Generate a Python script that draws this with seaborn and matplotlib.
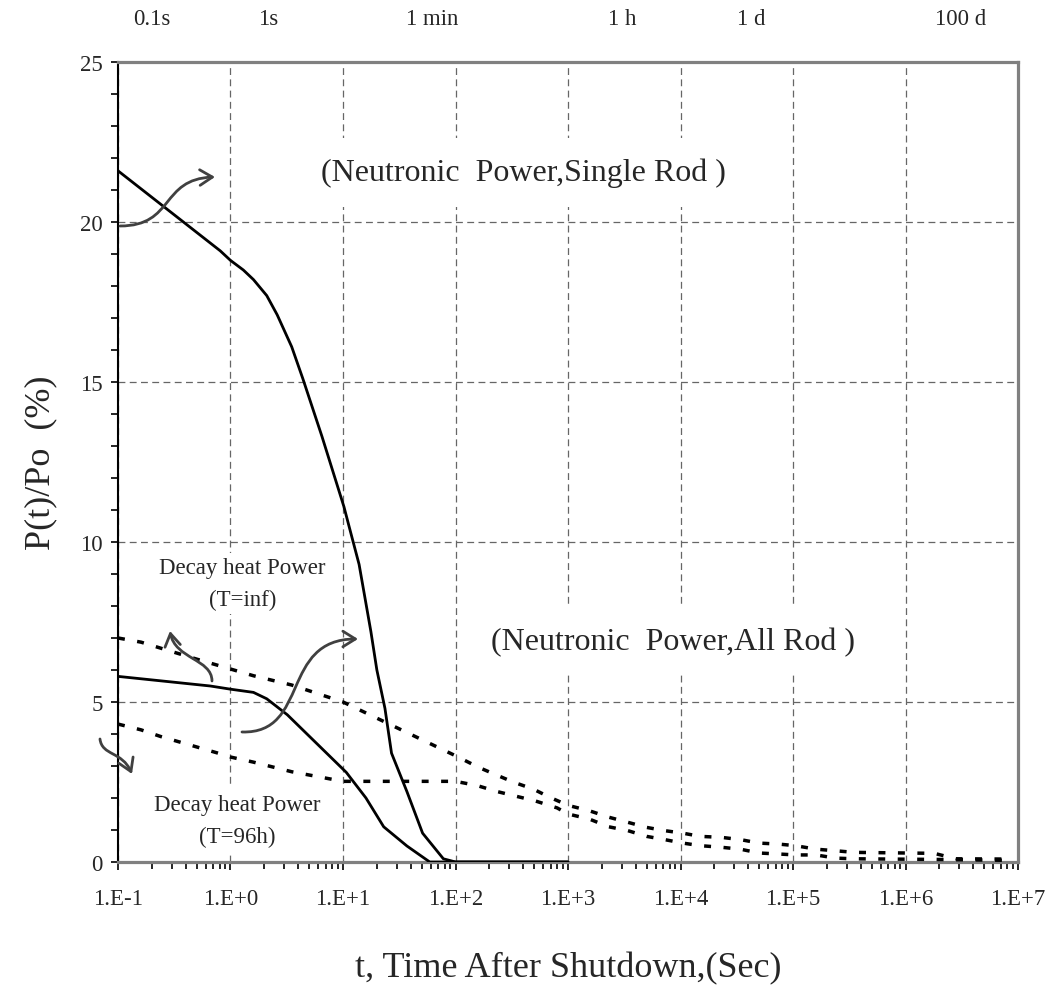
import numpy as np
import pandas as pd
import matplotlib
matplotlib.use('Agg')
import matplotlib.pyplot as plt
import seaborn as sns
from matplotlib.patches import FancyArrowPatch
from matplotlib.path import Path
from matplotlib.ticker import LogLocator, NullFormatter, MultipleLocator

# values (t in seconds, P/Po in %)
single_t = [0.1, 0.81, 1.0, 1.3, 1.6, 2.1, 2.6, 3.5, 4.4, 6.5, 10.2, 11.3, 13.9,
            17.7, 20, 23.6, 27, 37, 51, 78, 100, 1000]
single_p = [21.6, 19.1, 18.8, 18.5, 18.2, 17.7, 17.1, 16.1, 15.1, 13.3, 11.1, 10.5, 9.3,
            7.2, 6.0, 4.8, 3.4, 2.2, 0.9, 0.1, 0.0, 0.0]

allrod_t = [0.1, 0.66, 1.0, 1.6, 2.1, 3.2, 10.7, 16, 23, 37, 59, 100, 1000]
allrod_p = [5.8, 5.5, 5.4, 5.3, 5.1, 4.6, 2.8, 2.0, 1.1, 0.5, 0.0, 0.0, 0.0]

inf_t = [0.1, 0.16, 0.5, 1.0, 1.6, 3.5, 10, 100, 160, 220, 330, 490, 690, 1000,
         1550, 2300, 3400, 5000, 7200, 1.05e4, 1.5e4, 2.3e4, 3.4e4, 5e4, 7.4e4,
         1.05e5, 1.6e5, 2.4e5, 3.5e5, 1.8e6, 2.8e6, 9.1e6]
inf_p = [7.0, 6.87, 6.34, 6.03, 5.82, 5.53, 5.0, 3.32, 2.96, 2.75, 2.49, 2.28, 2.02, 1.77,
         1.6, 1.40, 1.24, 1.08, 0.98, 0.90, 0.80, 0.77, 0.70, 0.59, 0.56,
         0.51, 0.40, 0.35, 0.30, 0.27, 0.10, 0.09]

h96_t = [0.1, 0.16, 0.24, 0.76, 1.0, 1.6, 3.5, 10, 32, 100, 155, 235, 350, 510, 800, 1000,
         1550, 2300, 3400, 5000, 7200, 1.05e4, 1.5e4, 2.3e4, 3.4e4, 5e4, 7.4e4,
         1.05e5, 1.6e5, 2.4e5, 3.5e5, 1.8e6, 9.1e6]
h96_p = [4.31, 4.13, 3.92, 3.41, 3.28, 3.12, 2.82, 2.52, 2.52, 2.52, 2.39, 2.2, 2.05, 1.91, 1.69, 1.5,
         1.34, 1.10, 0.98, 0.80, 0.70, 0.59, 0.51, 0.46, 0.40, 0.28, 0.25,
         0.22, 0.22, 0.12, 0.10, 0.08, 0.05]

xtick_vals = [1e-1, 1e0, 1e1, 1e2, 1e3, 1e4, 1e5, 1e6, 1e7]
xtick_labels = ['1.E-1', '1.E+0', '1.E+1', '1.E+2', '1.E+3', '1.E+4', '1.E+5', '1.E+6', '1.E+7']
top_labels = ['0.1s', '1s', '1 min', '1 h', '1 d', '100 d']
top_pos = [0.038, 0.167, 0.349, 0.56, 0.704, 0.936]  # axes fraction

sns.set_style('ticks')
plt.rcParams['font.family'] = ['Liberation Serif', 'DejaVu Serif']

fig = plt.figure(figsize=(10.61, 10.03), dpi=100)
ax = fig.add_axes([0.1112, 0.1396, 0.8483, 0.7976])
ax.set_xscale('log')

solid = dict(color='black', lw=2.0, estimator=None, sort=False, zorder=3)
dashed = dict(color='black', lw=2.5, estimator=None, sort=False, zorder=3,
              linestyle=(0, (2.0, 3.6)), dash_capstyle='butt')

sns.lineplot(data=pd.DataFrame({'t': single_t, 'p': single_p}), x='t', y='p', ax=ax, **solid)
sns.lineplot(data=pd.DataFrame({'t': allrod_t, 'p': allrod_p}), x='t', y='p', ax=ax, **solid)
sns.lineplot(data=pd.DataFrame({'t': inf_t, 'p': inf_p}), x='t', y='p', ax=ax, **dashed)
sns.lineplot(data=pd.DataFrame({'t': h96_t, 'p': h96_p}), x='t', y='p', ax=ax, **dashed)

ax.set_xlim(1e-1, 1e7)
ax.set_ylim(0, 25)
ax.set_xticks(xtick_vals)
ax.set_xticklabels(xtick_labels)
ax.xaxis.set_minor_locator(LogLocator(base=10, subs=np.arange(2, 10), numticks=20))
ax.xaxis.set_minor_formatter(NullFormatter())
ax.yaxis.set_major_locator(MultipleLocator(5))
ax.yaxis.set_minor_locator(MultipleLocator(1))
ax.tick_params(axis='both', which='both', direction='out', color='black', width=1.2)
ax.tick_params(axis='x', which='major', length=6, pad=13, labelsize=16.5)
ax.tick_params(axis='x', which='minor', length=5)
ax.tick_params(axis='y', which='major', length=5, pad=6, labelsize=16.5)
ax.tick_params(axis='y', which='minor', length=5)

ax.grid(True, which='major', color='#666666', lw=0.9, linestyle=(0, (5.5, 3.5)))
ax.set_axisbelow(True)

for side in ['top', 'right', 'bottom']:
    ax.spines[side].set_color('#808080')
    ax.spines[side].set_linewidth(2.3)
ax.spines['left'].set_color('black')
ax.spines['left'].set_linewidth(1.5)

ax.set_xlabel('t, Time After Shutdown,(Sec)', fontsize=26, labelpad=30)
ax.set_ylabel('P(t)/Po  (%)', fontsize=26, labelpad=16)

for lab, xp in zip(top_labels, top_pos):
    ax.text(xp, 1.054, lab, transform=ax.transAxes, ha='center', va='center', fontsize=16.5)

box = dict(facecolor='white', edgecolor='none')
ax.text(0.45, 0.862, '(Neutronic  Power,Single Rod )', transform=ax.transAxes,
        ha='center', va='center', fontsize=23, zorder=1.5, bbox=dict(box, pad=14))
ax.text(0.617, 0.276, '(Neutronic  Power,All Rod )', transform=ax.transAxes,
        ha='center', va='center', fontsize=23, zorder=1.5, bbox=dict(box, pad=14))
ax.text(0.138, 0.348, 'Decay heat Power\n(T=inf)', transform=ax.transAxes,
        ha='center', va='center', fontsize=16.5, linespacing=1.7, zorder=1.5,
        bbox=dict(box, pad=3))
ax.text(0.133, 0.052, 'Decay heat Power\n(T=96h)', transform=ax.transAxes,
        ha='center', va='center', fontsize=16.5, linespacing=1.7, zorder=1.5,
        bbox=dict(box, pad=4))


# curved arrows, control points given in pixels of the original image
def px(x, y):
    return ((x - 118) / 900, (863 - y) / 800)


arrows = [
    [(120, 227), (175, 227), (160, 180), (215, 178)],
    [(212, 682), (212, 660), (175, 660), (170, 632)],
    [(242, 733), (310, 735), (280, 640), (358, 640)],
    [(100, 740), (102, 757), (122, 752), (132, 775)],
]
for pts in arrows:
    path = Path([px(*p) for p in pts], [Path.MOVETO, Path.CURVE4, Path.CURVE4, Path.CURVE4])
    arr = FancyArrowPatch(path=path, arrowstyle='->,head_length=0.45,head_width=0.28',
                          mutation_scale=20, color='#404040', lw=2.0,
                          transform=ax.transAxes, clip_on=False, zorder=4)
    ax.add_patch(arr)

fig.savefig('out.png', dpi=100)
